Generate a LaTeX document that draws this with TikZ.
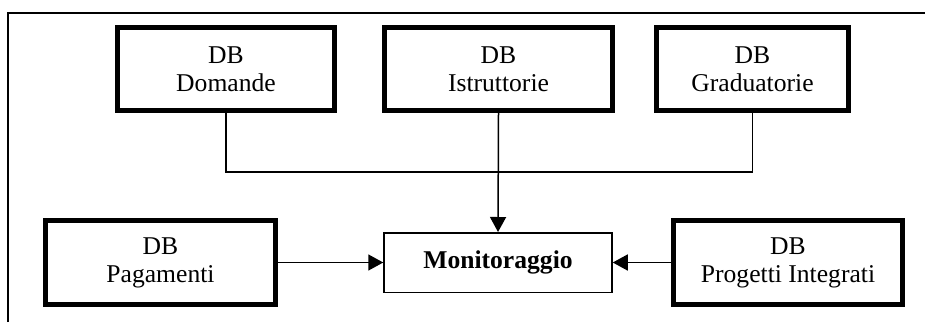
\documentclass[tikz,border=0pt]{standalone}
\usepackage{fontspec}
\setmainfont{Liberation Serif}
\usepackage{tikz}
\usetikzlibrary{arrows.meta,positioning}
\tikzset{
  dbbox/.style={draw,line width=2.5pt,align=center,minimum height=41.5pt,inner sep=2pt,font=\fontsize{12.8}{14}\selectfont},
  monbox/.style={draw,line width=0.75pt,minimum width=114pt,minimum height=29.75pt,inner sep=2pt,font=\fontsize{12.8}{14}\selectfont\bfseries},
  link/.style={line width=0.75pt},
  arr/.style={-{Triangle[length=7.5pt,width=8pt]},line width=0.75pt}
}
\begin{document}
\begin{tikzpicture}[x=0.5pt,y=-0.5pt]
  \useasboundingbox (0,0) rectangle (925,322);
  \coordinate (fb) at (8,322); \coordinate (ft) at (925,13);
  \draw[link] (fb) |- (ft);
  \node[dbbox,minimum width=108.5pt] (dom) at (226,69) {DB\\Domande};
  \node[dbbox,minimum width=114pt] (istr) at (498.5,69) {DB\\Istruttorie};
  \node[dbbox,minimum width=96pt] (grad) at (752.5,69) {DB\\Graduatorie};
  \node[monbox] (mon) at (498,262.5) {Monitoraggio};
  \node[dbbox,minimum width=115pt,minimum height=42pt] (pag) at (160.5,262.5) {DB\\Pagamenti};
  \node[dbbox,minimum width=114.5pt,minimum height=42pt] (prog) at (788,262.5) {DB\\Progetti Integrati};
  \coordinate (bus) at (498.5,172);
  \draw[link] (dom.south) |- (bus) -| (grad.south);
  \draw[arr] (istr.south) -- (mon.north);
  \draw[arr] (pag.east) -- (mon.west);
  \draw[arr] (prog.west) -- (mon.east);
\end{tikzpicture}
\end{document}
